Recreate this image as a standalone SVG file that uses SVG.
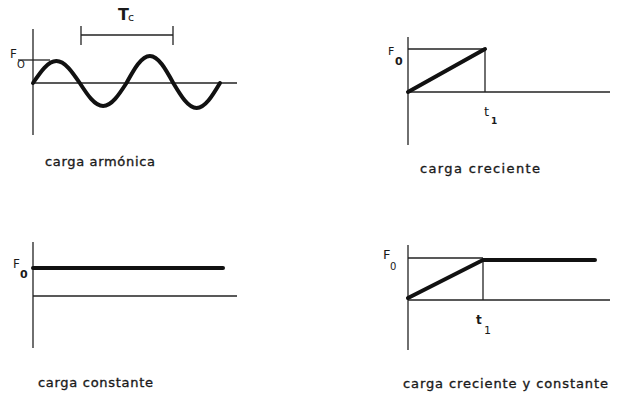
<svg xmlns="http://www.w3.org/2000/svg" width="618" height="394" viewBox="0 0 618 394">
<style>
.bg{fill:#fff}
.thin{stroke:#222;stroke-width:1.3;fill:none}
.thick{stroke:#111;stroke-width:4;fill:none;stroke-linecap:round;stroke-linejoin:round}
.lbl{font-family:"DejaVu Sans",sans-serif;font-size:13px;fill:#1a1a1a;stroke:#1a1a1a;stroke-width:0.35}
.sym{font-family:"DejaVu Sans",sans-serif;fill:#1a1a1a}
.b{font-weight:bold}
</style>
<rect class="bg" width="618" height="394"/>
<g id="armonica">
<line class="thin" x1="33" y1="29" x2="33" y2="135"/>
<line class="thin" x1="33" y1="83" x2="237" y2="83"/>
<line class="thin" x1="18" y1="60" x2="50" y2="60"/>
<path class="thick" d="M33,83 C40.62,71.73 47.92,61 56.375,61 C64.83,61 72.13,71.73 79.75,83 C87.37,94.78 94.67,106 103.125,106 C111.58,106 118.88,94.78 126.5,83 C134.12,69.17 141.42,56 149.875,56 C158.33,56 165.63,69.17 173.25,83 C180.87,95.81 188.17,108 196.625,108 C205.08,108 212.38,95.81 220,83"/>
<line class="thin" x1="81" y1="35" x2="173" y2="35"/>
<line class="thin" x1="81" y1="26" x2="81" y2="45"/>
<line class="thin" x1="173" y1="26" x2="173" y2="45"/>
<text class="sym b" x="118" y="20" font-size="16">T</text>
<text class="sym" x="128" y="21" font-size="11">c</text>
<text class="sym" x="10" y="58" font-size="12">F</text>
<text class="sym" x="17" y="68" font-size="10">O</text>
<text class="lbl" x="45" y="166" textLength="110">carga armónica</text>
</g>
<g id="creciente">
<line class="thin" x1="408" y1="37" x2="408" y2="145"/>
<line class="thin" x1="408" y1="92" x2="610" y2="92"/>
<line class="thin" x1="408" y1="49" x2="485" y2="49"/>
<line class="thin" x1="485" y1="49" x2="485" y2="92"/>
<line class="thick" x1="408" y1="92" x2="485" y2="49"/>
<text class="sym" x="388" y="55" font-size="11">F</text>
<text class="sym b" x="395" y="65" font-size="11">0</text>
<text class="sym" x="484" y="116" font-size="13">t</text>
<text class="sym b" x="491" y="124" font-size="9">1</text>
<text class="lbl" x="420" y="173" textLength="120">carga creciente</text>
</g>
<g id="constante">
<line class="thin" x1="33" y1="242" x2="33" y2="348"/>
<line class="thin" x1="33" y1="296" x2="237" y2="296"/>
<line class="thick" x1="33" y1="268" x2="223" y2="268"/>
<text class="sym" x="13" y="268" font-size="12">F</text>
<text class="sym b" x="20" y="278" font-size="11">0</text>
<text class="lbl" x="38" y="387" textLength="115">carga constante</text>
</g>
<g id="creciente-constante">
<line class="thin" x1="408" y1="245" x2="408" y2="350"/>
<line class="thin" x1="408" y1="300" x2="610" y2="300"/>
<line class="thin" x1="408" y1="258" x2="483" y2="258"/>
<line class="thin" x1="483" y1="258" x2="483" y2="300"/>
<polyline class="thick" points="408,298 483,260 595,260"/>
<text class="sym" x="383" y="259" font-size="13">F</text>
<text class="sym" x="390" y="270" font-size="10">0</text>
<text class="sym b" x="476" y="324" font-size="12">t</text>
<text class="sym" x="484" y="334" font-size="11">1</text>
<text class="lbl" x="403" y="388" textLength="205">carga creciente y constante</text>
</g>
</svg>
